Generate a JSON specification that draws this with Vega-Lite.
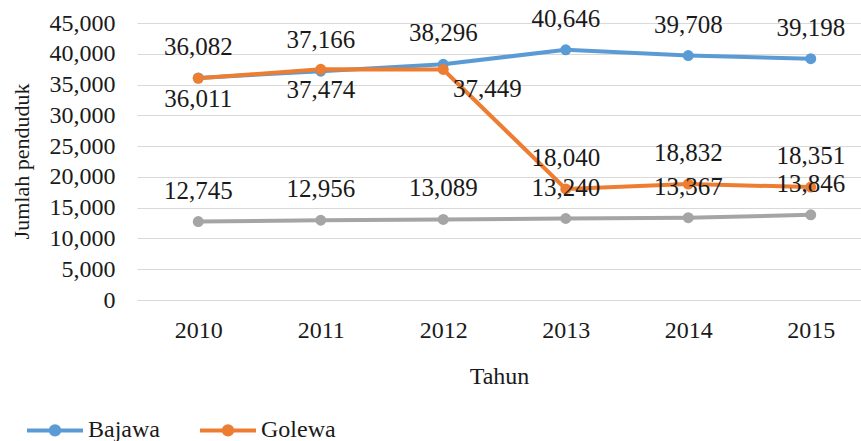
{
  "$schema": "https://vega.github.io/schema/vega-lite/v6.json",
  "width": 735,
  "height": 277,
  "autosize": {"type": "none"},
  "padding": {"left": 137, "top": 23, "right": -11, "bottom": 141},
  "background": "white",
  "config": {
    "view": {"stroke": null},
    "font": "Liberation Serif",
    "text": {"font": "Liberation Serif"}
  },
  "data": {
    "values": [
      {"Tahun": "2010", "Kecamatan": "Bajawa", "Jumlah": 36082},
      {"Tahun": "2011", "Kecamatan": "Bajawa", "Jumlah": 37166},
      {"Tahun": "2012", "Kecamatan": "Bajawa", "Jumlah": 38296},
      {"Tahun": "2013", "Kecamatan": "Bajawa", "Jumlah": 40646},
      {"Tahun": "2014", "Kecamatan": "Bajawa", "Jumlah": 39708},
      {"Tahun": "2015", "Kecamatan": "Bajawa", "Jumlah": 39198},
      {"Tahun": "2010", "Kecamatan": "Golewa", "Jumlah": 36011},
      {"Tahun": "2011", "Kecamatan": "Golewa", "Jumlah": 37474},
      {"Tahun": "2012", "Kecamatan": "Golewa", "Jumlah": 37449},
      {"Tahun": "2013", "Kecamatan": "Golewa", "Jumlah": 18040},
      {"Tahun": "2014", "Kecamatan": "Golewa", "Jumlah": 18832},
      {"Tahun": "2015", "Kecamatan": "Golewa", "Jumlah": 18351},
      {"Tahun": "2010", "Kecamatan": "Bajawa Utara", "Jumlah": 12745},
      {"Tahun": "2011", "Kecamatan": "Bajawa Utara", "Jumlah": 12956},
      {"Tahun": "2012", "Kecamatan": "Bajawa Utara", "Jumlah": 13089},
      {"Tahun": "2013", "Kecamatan": "Bajawa Utara", "Jumlah": 13240},
      {"Tahun": "2014", "Kecamatan": "Bajawa Utara", "Jumlah": 13367},
      {"Tahun": "2015", "Kecamatan": "Bajawa Utara", "Jumlah": 13846}
    ]
  },
  "encoding": {
    "x": {
      "field": "Tahun",
      "type": "ordinal",
      "scale": {"type": "point", "padding": 0.5},
      "axis": {
        "title": "Tahun",
        "labelAngle": 0,
        "labelFont": "Liberation Serif",
        "labelFontSize": 24,
        "labelFontWeight": "normal",
        "labelColor": "#1a1a1a",
        "labelPadding": 18,
        "domain": false,
        "ticks": false,
        "grid": false,
        "titleFont": "Liberation Serif",
        "titleFontSize": 24,
        "titleFontWeight": "normal",
        "titleColor": "#1a1a1a",
        "titleBaseline": "middle",
        "titleX": 362,
        "titleY": 76
      }
    },
    "y": {
      "field": "Jumlah",
      "type": "quantitative",
      "scale": {"domain": [0, 45000], "nice": false},
      "axis": {
        "title": "Jumlah penduduk",
        "values": [0, 5000, 10000, 15000, 20000, 25000, 30000, 35000, 40000, 45000],
        "format": ",.0f",
        "labelFont": "Liberation Serif",
        "labelFontSize": 24,
        "labelFontWeight": "normal",
        "labelColor": "#1a1a1a",
        "labelPadding": 22,
        "domain": false,
        "ticks": false,
        "grid": true,
        "gridColor": "#d9d9d9",
        "gridWidth": 1,
        "titleFont": "Liberation Serif",
        "titleFontSize": 22,
        "titleFontWeight": "normal",
        "titleColor": "#1a1a1a",
        "titleBaseline": "middle",
        "titleX": -116,
        "titleY": 138
      }
    }
  },
  "layer": [
    {
      "mark": {"type": "line", "strokeWidth": 4},
      "encoding": {
        "color": {
          "field": "Kecamatan",
          "type": "nominal",
          "scale": {"domain": ["Bajawa", "Golewa", "Bajawa Utara"], "range": ["#5b9bd5", "#ed7d31", "#a5a5a5"]},
          "legend": {
            "title": null,
            "orient": "none",
            "legendX": -112,
            "legendY": 377,
            "direction": "horizontal",
            "columns": 2,
            "columnPadding": 32,
            "padding": 0,
            "symbolType": "M-1,0H1M-0.15,0A0.15,0.15,0,1,1,0.15,0A0.15,0.15,0,1,1,-0.15,0Z",
            "symbolSize": 3136,
            "symbolStrokeWidth": 4,
            "labelFont": "Liberation Serif",
            "labelFontSize": 24,
            "labelFontWeight": "normal",
            "labelColor": "#1a1a1a",
            "labelOffset": 3,
            "labelLimit": 80,
            "encode": {
              "symbols": {"update": {"fill": {"scale": "color", "field": "value"}, "stroke": {"scale": "color", "field": "value"}}}
            }
          }
        }
      }
    },
    {
      "mark": {"type": "point", "filled": true, "size": 120, "opacity": 1},
      "encoding": {
        "color": {"field": "Kecamatan", "type": "nominal", "legend": null}
      }
    },
    {
      "transform": [{"filter": "!(datum.Kecamatan == 'Golewa' && (datum.Tahun == '2010' || datum.Tahun == '2011' || datum.Tahun == '2012'))"}],
      "mark": {"type": "text", "fontSize": 25, "dy": -31, "color": "#1a1a1a", "font": "Liberation Serif"},
      "encoding": {"text": {"field": "Jumlah", "type": "quantitative", "format": ",.0f"}}
    },
    {
      "transform": [{"filter": "datum.Kecamatan == 'Golewa' && (datum.Tahun == '2010' || datum.Tahun == '2011')"}],
      "mark": {"type": "text", "fontSize": 25, "dy": 21, "color": "#1a1a1a", "font": "Liberation Serif"},
      "encoding": {"text": {"field": "Jumlah", "type": "quantitative", "format": ",.0f"}}
    },
    {
      "transform": [{"filter": "datum.Kecamatan == 'Golewa' && datum.Tahun == '2012'"}],
      "mark": {"type": "text", "fontSize": 25, "dx": 44, "dy": 20, "color": "#1a1a1a", "font": "Liberation Serif"},
      "encoding": {"text": {"field": "Jumlah", "type": "quantitative", "format": ",.0f"}}
    }
  ]
}
